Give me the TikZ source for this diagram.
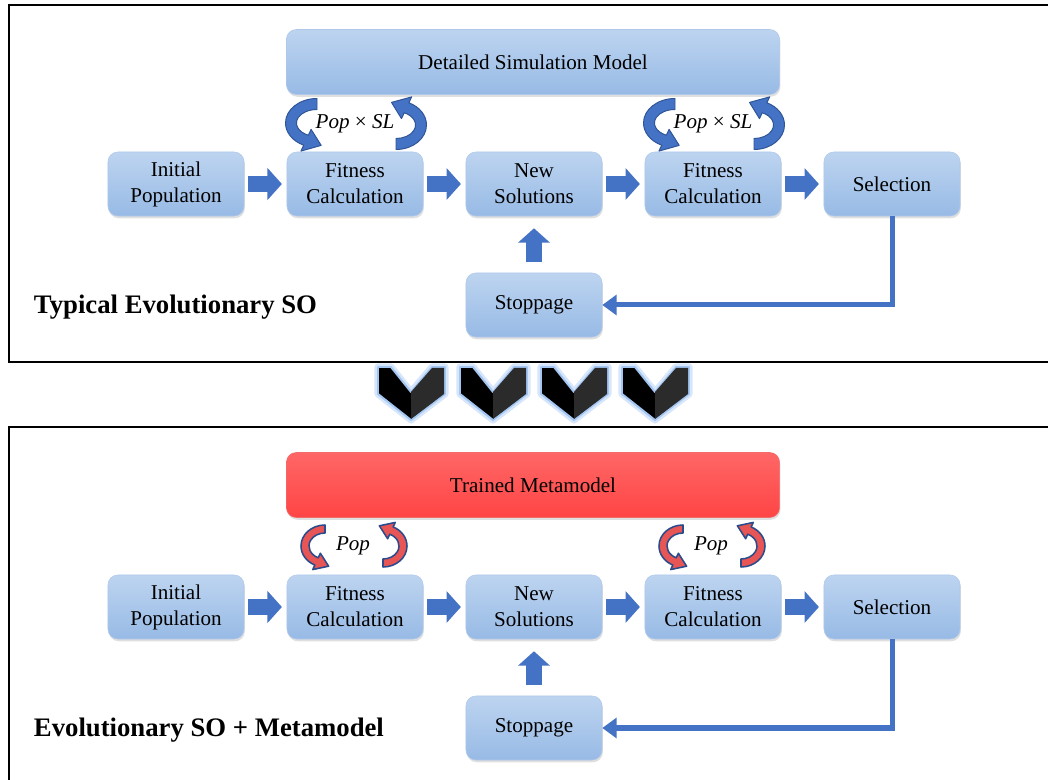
\documentclass[tikz,border=0pt]{standalone}
\usepackage{fontspec}
\setmainfont{Liberation Serif}
\usepackage{tikz}
\usetikzlibrary{arrows.meta, positioning, calc, shadows}
\definecolor{BoxTop}{HTML}{BDD4F0}
\definecolor{BoxBot}{HTML}{97BAE5}
\definecolor{BoxLine}{HTML}{AFC8EA}
\definecolor{ArrowBlue}{HTML}{4472C4}
\definecolor{ArrowDark}{HTML}{2F5597}
\definecolor{Navy}{HTML}{2B4C8C}
\definecolor{LoopRed}{HTML}{E85555}
\definecolor{MetaTop}{HTML}{FF6666}
\definecolor{MetaBot}{HTML}{FF4545}
\definecolor{MetaLine}{HTML}{F26B6B}
\definecolor{Glow}{HTML}{8DB8F0}
\definecolor{ChevSide}{HTML}{2B2B2B}

\begin{document}
\begin{tikzpicture}[x=0.025cm, y=0.025cm,
  block/.style={rounded corners=7pt, top color=BoxTop, bottom color=BoxBot, draw=BoxLine, thin, align=center,
    minimum width=3.4cm, minimum height=1.6cm, inner sep=2pt, font=\fontsize{15}{18.5}\selectfont,
    drop shadow={shadow xshift=0.6pt, shadow yshift=-1.6pt, opacity=0.25}},
  wide/.style={block, minimum width=12.325cm, minimum height=1.625cm},
  metabox/.style={wide, top color=MetaTop, bottom color=MetaBot, draw=MetaLine},
  blockarr/.style={line width=0.4cm, draw=ArrowBlue, -{Triangle[length=0.36cm, width=0.78cm]},
    shorten <=0.1cm, shorten >=0.12cm},
  uparr/.style={blockarr, shorten <=0.27cm, shorten >=0.3cm},
  backline/.style={line width=0.125cm, draw=ArrowBlue, -{Triangle[length=0.36cm, width=0.5cm]}},
  ribbon/.style={fill=ArrowBlue, draw=ArrowDark, line width=0.7pt, line join=round},
  redribbon/.style={fill=LoopRed, draw=Navy, line width=1.1pt, line join=round},
  looplabel/.style={font=\fontsize{15}{18}\selectfont\itshape},
  title/.style={font=\fontsize{19}{22}\selectfont\bfseries, anchor=west},
  frame/.style={line width=2.1pt, draw=black},
  chevglow/.style={draw=Glow, line width=5pt, opacity=0.35, line join=round},
  chev/.style={fill=black, draw=Glow!80!white, line width=1.4pt, line join=round},
  chevside/.style={fill=ChevSide}
]
\path[use as bounding box, clip] (0,0) rectangle (1048,-780);

\draw[frame] (9,-5) rectangle (1070,-362);
\draw[frame] (9,-427) rectangle (1070,-820);

% typical evolutionary SO
\node[wide] (sim) at (533,-62) {Detailed Simulation Model};
\node[block] (ip1) at (176,-184) {Initial\\Population};
\node[block] (fit1a) at (355,-184) {Fitness\\Calculation};
\node[block] (new1) at (534,-184) {New\\Solutions};
\node[block] (fit1b) at (713,-184) {Fitness\\Calculation};
\node[block] (sel1) at (892,-184) {Selection};
\node[block] (stop1) at (534,-305) {Stoppage};
\node[title] (lab1) at (29,-307) {Typical Evolutionary SO};

\draw[blockarr] (ip1) -- (fit1a);
\draw[blockarr] (fit1a) -- (new1);
\draw[blockarr] (new1) -- (fit1b);
\draw[blockarr] (fit1b) -- (sel1);
\draw[uparr] (stop1) -- (new1);
\draw[backline] (sel1.south) |- (stop1.east);

\coordinate (c1a) at (355,-124);
\coordinate (c1b) at (713,-124);
\draw[ribbon, shift={($(c1a)+(-38,1)$)}] (0,24.5) arc[start angle=90, end angle=245, x radius=31.5, y radius=24.5]
  -- (245:38 and 31) -- (4.2,-22.4) -- (245:14 and 7) -- (245:20.5 and 13.5)
  arc[start angle=245, end angle=90, x radius=20.5, y radius=13.5] -- cycle;
\draw[ribbon, shift={($(c1a)+(41,-1)$)}] (0,-24.5) arc[start angle=-90, end angle=65, x radius=30.5, y radius=24.5]
  -- (65:37 and 31) -- (-4.5,22.6) -- (65:13 and 7) -- (65:19.5 and 13.5)
  arc[start angle=65, end angle=-90, x radius=19.5, y radius=13.5] -- cycle;
\draw[ribbon, shift={($(c1b)+(-38,1)$)}] (0,24.5) arc[start angle=90, end angle=245, x radius=31.5, y radius=24.5]
  -- (245:38 and 31) -- (4.2,-22.4) -- (245:14 and 7) -- (245:20.5 and 13.5)
  arc[start angle=245, end angle=90, x radius=20.5, y radius=13.5] -- cycle;
\draw[ribbon, shift={($(c1b)+(41,-1)$)}] (0,-24.5) arc[start angle=-90, end angle=65, x radius=30.5, y radius=24.5]
  -- (65:37 and 31) -- (-4.5,22.6) -- (65:13 and 7) -- (65:19.5 and 13.5)
  arc[start angle=65, end angle=-90, x radius=19.5, y radius=13.5] -- cycle;
\node[looplabel] (pop1a) at (c1a) {Pop {\upshape ×} SL};
\node[looplabel] (pop1b) at (c1b) {Pop {\upshape ×} SL};

% chevrons
\draw[chevglow] (378,-367) -- (391,-367) -- (411,-392) -- (432,-367) -- (445,-367) -- (445,-394) -- (411,-420) -- (378,-394) -- cycle;
\draw[chev] (378,-367) -- (391,-367) -- (411,-392) -- (432,-367) -- (445,-367) -- (445,-394) -- (411,-420) -- (378,-394) -- cycle;
\fill[chevside] (411,-392) -- (432,-368) -- (444,-368) -- (444,-394) -- (411,-419) -- cycle;
\draw[chevglow] (460,-367) -- (473,-367) -- (493,-392) -- (514,-367) -- (527,-367) -- (527,-394) -- (493,-420) -- (460,-394) -- cycle;
\draw[chev] (460,-367) -- (473,-367) -- (493,-392) -- (514,-367) -- (527,-367) -- (527,-394) -- (493,-420) -- (460,-394) -- cycle;
\fill[chevside] (493,-392) -- (514,-368) -- (526,-368) -- (526,-394) -- (493,-419) -- cycle;
\draw[chevglow] (541,-367) -- (554,-367) -- (574,-392) -- (595,-367) -- (608,-367) -- (608,-394) -- (574,-420) -- (541,-394) -- cycle;
\draw[chev] (541,-367) -- (554,-367) -- (574,-392) -- (595,-367) -- (608,-367) -- (608,-394) -- (574,-420) -- (541,-394) -- cycle;
\fill[chevside] (574,-392) -- (595,-368) -- (607,-368) -- (607,-394) -- (574,-419) -- cycle;
\draw[chevglow] (622,-367) -- (635,-367) -- (655,-392) -- (676,-367) -- (689,-367) -- (689,-394) -- (655,-420) -- (622,-394) -- cycle;
\draw[chev] (622,-367) -- (635,-367) -- (655,-392) -- (676,-367) -- (689,-367) -- (689,-394) -- (655,-420) -- (622,-394) -- cycle;
\fill[chevside] (655,-392) -- (676,-368) -- (688,-368) -- (688,-394) -- (655,-419) -- cycle;

% evolutionary SO + metamodel
\node[metabox] (meta) at (533,-485) {Trained Metamodel};
\node[block] (ip2) at (176,-607) {Initial\\Population};
\node[block] (fit2a) at (355,-607) {Fitness\\Calculation};
\node[block] (new2) at (534,-607) {New\\Solutions};
\node[block] (fit2b) at (713,-607) {Fitness\\Calculation};
\node[block] (sel2) at (892,-607) {Selection};
\node[block] (stop2) at (534,-728) {Stoppage};
\node[title] (lab2) at (29,-730) {Evolutionary SO + Metamodel};

\draw[blockarr] (ip2) -- (fit2a);
\draw[blockarr] (fit2a) -- (new2);
\draw[blockarr] (new2) -- (fit2b);
\draw[blockarr] (fit2b) -- (sel2);
\draw[uparr] (stop2) -- (new2);
\draw[backline] (sel2.south) |- (stop2.east);

\coordinate (c2a) at (353,-546);
\coordinate (c2b) at (711,-546);
\draw[redribbon, shift={($(c2a)+(-28,0)$)}] (0,21) arc[start angle=90, end angle=245, x radius=24, y radius=21]
  -- (245:29 and 26) -- (3.6,-20.2) -- (245:11 and 8) -- (245:16 and 13)
  arc[start angle=245, end angle=90, x radius=16, y radius=13] -- cycle;
\draw[redribbon, shift={($(c2a)+(30,0)$)}] (0,-21) arc[start angle=-90, end angle=65, x radius=24, y radius=21]
  -- (65:29 and 26) -- (-3.6,20.2) -- (65:11 and 8) -- (65:16 and 13)
  arc[start angle=65, end angle=-90, x radius=16, y radius=13] -- cycle;
\draw[redribbon, shift={($(c2b)+(-28,0)$)}] (0,21) arc[start angle=90, end angle=245, x radius=24, y radius=21]
  -- (245:29 and 26) -- (3.6,-20.2) -- (245:11 and 8) -- (245:16 and 13)
  arc[start angle=245, end angle=90, x radius=16, y radius=13] -- cycle;
\draw[redribbon, shift={($(c2b)+(30,0)$)}] (0,-21) arc[start angle=-90, end angle=65, x radius=24, y radius=21]
  -- (65:29 and 26) -- (-3.6,20.2) -- (65:11 and 8) -- (65:16 and 13)
  arc[start angle=65, end angle=-90, x radius=16, y radius=13] -- cycle;
\node[looplabel] (pop2a) at (c2a) {Pop};
\node[looplabel] (pop2b) at (c2b) {Pop};
\end{tikzpicture}
\end{document}
